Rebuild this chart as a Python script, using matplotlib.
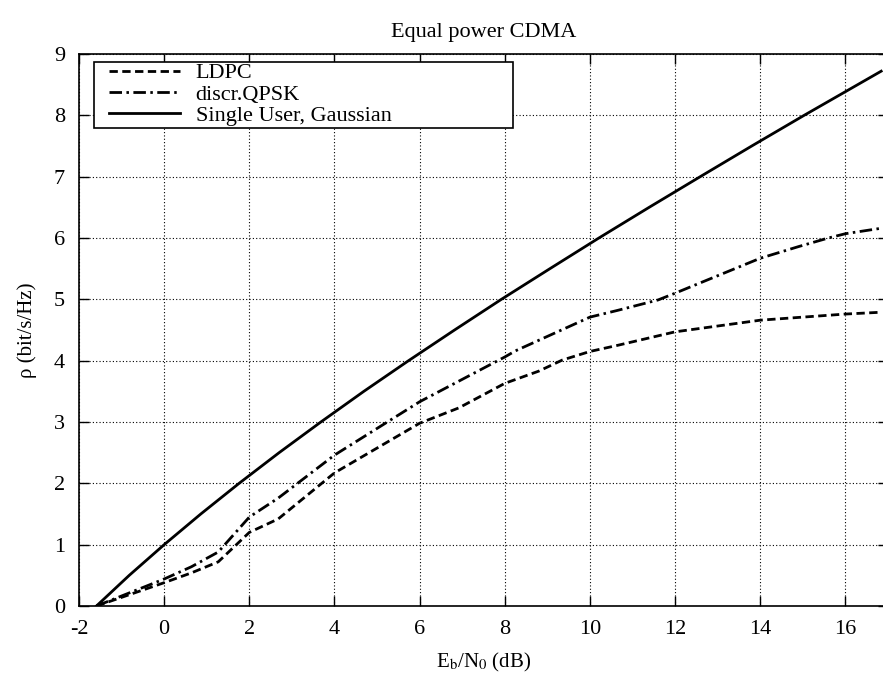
import numpy as np
import matplotlib.pyplot as plt
from matplotlib.patches import Rectangle

# Eb/N0 (dB) and spectral efficiency (bit/s/Hz)
x_su = [-1.59, -0.82, 0.0, 0.86, 1.76, 2.70, 3.68, 4.69, 5.74, 6.82, 7.92,
        9.06, 10.21, 11.39, 12.59, 13.80, 15.03, 16.84]
y_su = [0.0, 0.5, 1.0, 1.5, 2.0, 2.5, 3.0, 3.5, 4.0, 4.5, 5.0,
        5.5, 6.0, 6.5, 7.0, 7.5, 8.0, 8.72]

x_qpsk = [-1.59, 0.0, 0.64, 1.27, 2.0, 2.68, 4.0, 6.0, 8.0, 8.25, 10.0,
          10.65, 11.6, 12.0, 14.0, 14.9, 15.6, 16.0, 16.85]
y_qpsk = [0.0, 0.44, 0.64, 0.88, 1.45, 1.76, 2.46, 3.33, 4.06, 4.16, 4.71,
          4.82, 4.99, 5.1, 5.67, 5.86, 6.0, 6.07, 6.16]

x_ldpc = [-1.59, 0.0, 0.64, 1.27, 2.0, 2.68, 4.0, 6.0, 6.92, 8.0, 8.8,
          9.35, 10.0, 10.65, 12.0, 14.0, 16.0, 16.85]
y_ldpc = [0.0, 0.38, 0.54, 0.72, 1.2, 1.42, 2.17, 2.98, 3.23, 3.63, 3.83,
          4.01, 4.15, 4.25, 4.47, 4.66, 4.76, 4.79]

xticks = [-2, 0, 2, 4, 6, 8, 10, 12, 14, 16]
yticks = list(range(10))

plt.rcParams['font.family'] = ['Liberation Serif', 'DejaVu Serif']
plt.rcParams['mathtext.fontset'] = 'stix'
plt.rcParams['axes.unicode_minus'] = False

fig = plt.figure(figsize=(8.83, 6.78), dpi=100)
ax = fig.add_axes([79 / 883, 1 - 606 / 678, 809 / 883, 552 / 678])

ax.plot(x_ldpc, y_ldpc, color='black', lw=2.0, dashes=(3, 1.6), label='LDPC')
ax.plot(x_qpsk, y_qpsk, color='black', lw=2.0, dashes=(4.5, 1.6, 0.9, 1.6),
        label='discr.QPSK')
ax.plot(x_su, y_su, color='black', lw=2.0, label='Single User, Gaussian')

ax.set_xlim(-2, 17)
ax.set_ylim(0, 9)
ax.set_xticks(xticks)
ax.set_yticks(yticks)
ax.tick_params(direction='in', length=7, width=1, labelsize=16,
               top=True, right=True, pad=10)
ax.grid(True, linestyle=(0, (1, 2)), color='black', linewidth=0.8)
for s in ax.spines.values():
    s.set_linewidth(1.2)

ax.set_title('Equal power CDMA', fontsize=16, pad=12)
ax.set_xlabel(r'E$_\mathrm{b}$/N$_\mathrm{0}$ (dB)', fontsize=15, labelpad=9)
ax.set_ylabel('ρ (bit/s/Hz)', fontsize=15, labelpad=12)

# gnuplot-style key: frame wider than its content
leg = ax.legend(loc='upper left', fontsize=16, frameon=False,
                handlelength=3.2, handletextpad=0.7, borderpad=0,
                labelspacing=0.04, borderaxespad=0,
                bbox_to_anchor=(0.037, 0.984))
ax.add_patch(Rectangle((0.0185, 0.866), 0.518, 0.1195, transform=ax.transAxes,
                       facecolor='white', edgecolor='black', lw=1.2, zorder=4))
leg.set_zorder(5)

fig.savefig('out.png', dpi=100)
